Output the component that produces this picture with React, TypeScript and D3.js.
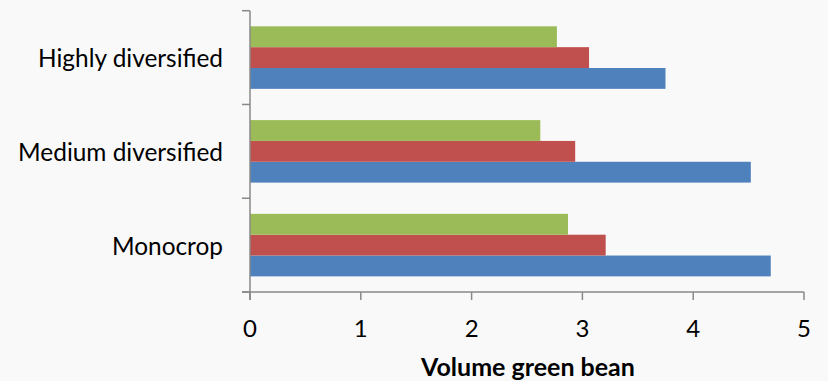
import React from "react";
import * as d3 from "d3";

const categories = ["Highly diversified", "Medium diversified", "Monocrop"];
const seriesNames = ["Series1", "Series2", "Series3"];
const seriesColors = ["#4F81BD", "#C0504D", "#9BBB59"];
// values per category (same order as categories)
const series1 = [3.75, 4.52, 4.7];
const series2 = [3.06, 2.935, 3.21];
const series3 = [2.77, 2.62, 2.87];
const xTicks = [0, 1, 2, 3, 4, 5];
const xTitle = "Volume green bean";

const W = 828;
const H = 381;
const left = 250;
const right = 804;
const top = 10.7;
const bottom = 292;

export default function App() {
  const x = d3.scaleLinear().domain([0, 5]).range([left, right]);
  const y = d3.scaleBand<string>().domain(categories).range([top, bottom]).padding(0);
  // top to bottom inside a group: series3, series2, series1
  const inner = d3
    .scaleBand<string>()
    .domain([seriesNames[2], seriesNames[1], seriesNames[0]])
    .range([0, y.bandwidth()])
    .paddingInner(0)
    .paddingOuter(0.75);
  const all = [series1, series2, series3];
  const axisColor = "#898989";
  const font = "Lato, 'Open Sans', sans-serif";
  return (
    <svg
      width={W}
      height={H}
      style={{ position: "absolute", left: 0, top: 0, background: "#f9f9f9" }}
    >
      <rect x={0} y={0} width={W} height={H} fill="#f9f9f9" />
      {categories.map((c, ci) =>
        all.map((vals, si) => (
          <rect
            key={c + si}
            x={x(0)}
            y={(y(c) as number) + (inner(seriesNames[si]) as number)}
            width={x(vals[ci]) - x(0)}
            height={inner.bandwidth()}
            fill={seriesColors[si]}
          />
        ))
      )}
      {/* y axis */}
      <line x1={x(0)} x2={x(0)} y1={top} y2={bottom + 8} stroke={axisColor} strokeWidth={1.5} />
      {[...categories.map((c) => y(c) as number), bottom].map((v, i) => (
        <line key={"yt" + i} x1={x(0) - 8} x2={x(0)} y1={v} y2={v} stroke={axisColor} strokeWidth={1.5} />
      ))}
      {/* x axis */}
      <line x1={x(0) - 8} x2={x(5)} y1={bottom} y2={bottom} stroke={axisColor} strokeWidth={1.5} />
      {xTicks.map((t) => (
        <line key={"xt" + t} x1={x(t)} x2={x(t)} y1={bottom} y2={bottom + 8} stroke={axisColor} strokeWidth={1.5} />
      ))}
      {xTicks.map((t) => (
        <text
          key={"xl" + t}
          x={x(t)}
          y={327}
          textAnchor="middle"
          dominantBaseline="central"
          fontFamily={font}
          fontSize={24}
          fill="#000"
        >
          {t}
        </text>
      ))}
      {categories.map((c) => (
        <text
          key={"cl" + c}
          x={223}
          y={(y(c) as number) + y.bandwidth() / 2}
          textAnchor="end"
          dominantBaseline="central"
          fontFamily={font}
          fontSize={24.4}
          fill="#000"
        >
          {c}
        </text>
      ))}
      <text
        x={528}
        y={366}
        textAnchor="middle"
        dominantBaseline="central"
        fontFamily={font}
        fontSize={25}
        fontWeight="bold"
        fill="#000"
      >
        {xTitle}
      </text>
    </svg>
  );
}
